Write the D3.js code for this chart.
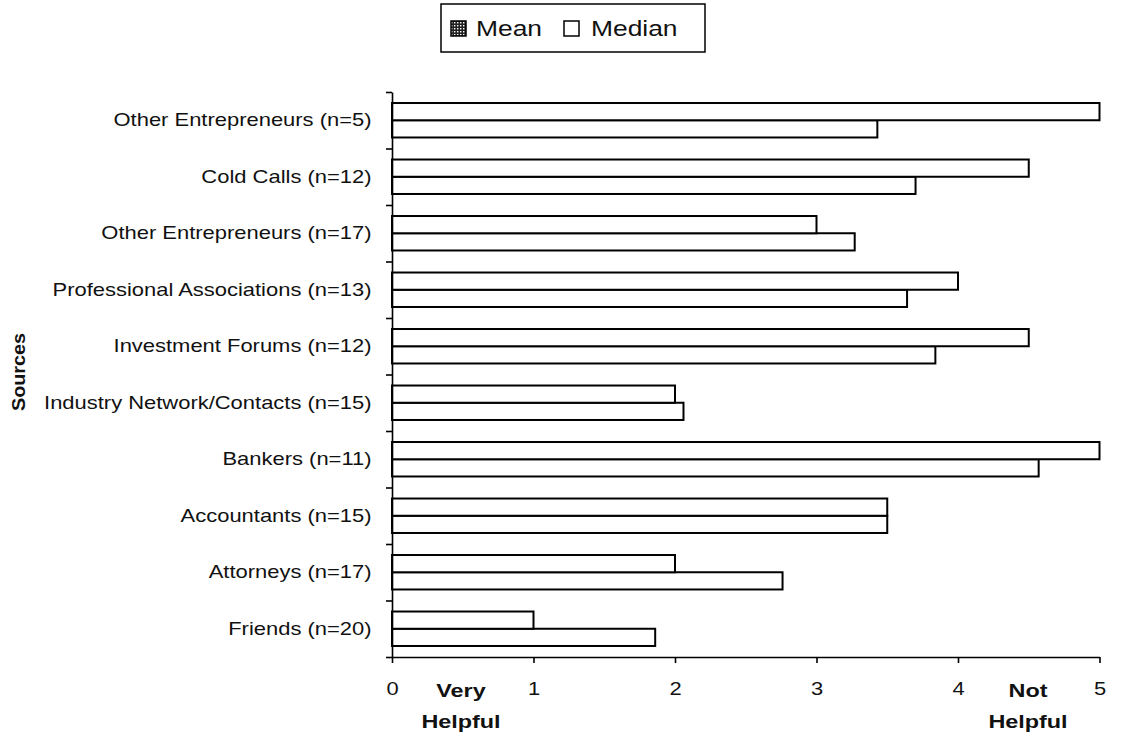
<!DOCTYPE html>
<html>
<head>
<meta charset="utf-8">
<script src="https://cdn.jsdelivr.net/npm/d3@7"></script>
<style>
  body { margin: 0; background: #fff; }
  svg { display: block; font-family: "Liberation Sans", Arial, sans-serif; }
</style>
</head>
<body>
<svg></svg>
<script>
const width = 1123;
const height = 735;
const margin = ({
    top: 92,
    right: 23.5,
    bottom: 78,
    left: 392
});

const categories = [
    "Other Entrepreneurs (n=5)",
    "Cold Calls (n=12)",
    "Other Entrepreneurs (n=17)",
    "Professional Associations (n=13)",
    "Investment Forums (n=12)",
    "Industry Network/Contacts (n=15)",
    "Bankers (n=11)",
    "Accountants (n=15)",
    "Attorneys (n=17)",
    "Friends (n=20)"
];
const seriesNames = ["Mean", "Median"];
const meanValues = [3.43, 3.70, 3.27, 3.64, 3.84, 2.06, 4.57, 3.5, 2.76, 1.86];
const medianValues = [5, 4.5, 3, 4, 4.5, 2, 5, 3.5, 2, 1];
const xTicks = [0, 1, 2, 3, 4, 5];

const stretch = 1.22;

const rows = categories.map((c, i) => ({
    category: c,
    Mean: meanValues[i],
    Median: medianValues[i]
}));

const svg = d3.select("svg")
    .attr("width", width)
    .attr("height", height)
    .attr("viewBox", [0, 0, width, height]);

const defs = svg.append("defs");
const dots = defs.append("pattern")
    .attr("id", "dots")
    .attr("patternUnits", "userSpaceOnUse")
    .attr("width", 3)
    .attr("height", 3);
dots.append("rect").attr("width", 3).attr("height", 3).attr("fill", "#222");
dots.append("rect").attr("x", 1).attr("y", 1).attr("width", 1.4).attr("height", 1.4).attr("fill", "#fff");

const x = d3.scaleLinear()
    .domain([0, 5])
    .range([margin.left, width - margin.right]);

const y = d3.scaleBand()
    .domain(categories)
    .range([margin.top, height - margin.bottom])
    .paddingInner(0.39)
    .paddingOuter(0.195);

// median on top, mean below inside each group
const ySub = d3.scaleBand()
    .domain(["Median", "Mean"])
    .range([0, y.bandwidth()]);

const yIdx = d3.scaleLinear()
    .domain([0, categories.length])
    .range([margin.top, height - margin.bottom]);

// bars
svg.append("g")
    .selectAll("g")
    .data(rows)
    .join("g")
    .attr("transform", d => `translate(0,${y(d.category)})`)
    .selectAll("rect")
    .data(d => seriesNames.map(s => ({ key: s, value: d[s] })))
    .join("rect")
    .attr("x", x(0))
    .attr("y", d => ySub(d.key))
    .attr("width", d => x(d.value) - x(0))
    .attr("height", ySub.bandwidth())
    .attr("fill", "#fff")
    .attr("stroke", "#000")
    .attr("stroke-width", 2);

// y axis with ticks between categories
svg.append("g")
    .attr("transform", `translate(${margin.left},0)`)
    .call(d3.axisLeft(yIdx).tickValues(d3.range(categories.length + 1)).tickFormat("").tickSize(6).tickSizeOuter(0))
    .call(g => g.selectAll("line, path").attr("stroke", "#000").attr("stroke-width", 1.6));

// category labels
svg.append("g")
    .attr("transform", `translate(${margin.left},0)`)
    .call(d3.axisLeft(y).tickSize(0).tickPadding(0))
    .call(g => g.select(".domain").remove())
    .call(g => g.selectAll("text")
        .attr("font-size", 18)
        .attr("font-family", "Liberation Sans, Arial, sans-serif")
        .attr("fill", "#111")
        .attr("x", -20.5 / stretch)
        .attr("transform", `scale(${stretch},1)`));

// x axis
svg.append("g")
    .attr("transform", `translate(0,${height - margin.bottom})`)
    .call(d3.axisBottom(x).tickValues(xTicks).tickFormat(d3.format("d")).tickSize(6).tickSizeOuter(0).tickPadding(19))
    .call(g => g.selectAll("line, path").attr("stroke", "#000").attr("stroke-width", 1.6))
    .call(g => g.selectAll("text")
        .attr("font-size", 18)
        .attr("font-family", "Liberation Sans, Arial, sans-serif")
        .attr("fill", "#111")
        .attr("transform", `scale(${stretch},1)`));

// scale end notes
const notes = [
    { x: 461, lines: ["Very", "Helpful"] },
    { x: 1028, lines: ["Not", "Helpful"] }
];
notes.forEach(n => {
    n.lines.forEach((t, i) => {
        svg.append("text")
            .attr("transform", `translate(${n.x},${697 + i * 31}) scale(1.3,1)`)
            .attr("text-anchor", "middle")
            .attr("font-size", 18)
            .attr("font-weight", "bold")
            .attr("fill", "#111")
            .text(t);
    });
});

// y-axis title
svg.append("text")
    .attr("transform", `translate(25,372) rotate(-90) scale(1.1,1)`)
    .attr("text-anchor", "middle")
    .attr("font-size", 18)
    .attr("font-weight", "bold")
    .attr("fill", "#111")
    .text("Sources");

// legend
const legend = svg.append("g");
legend.append("rect")
    .attr("x", 441)
    .attr("y", 4)
    .attr("width", 264)
    .attr("height", 48)
    .attr("fill", "#fff")
    .attr("stroke", "#000")
    .attr("stroke-width", 1.5);

const legendItems = [
    { name: "Mean", sx: 451, tx: 476, fill: "url(#dots)" },
    { name: "Median", sx: 564, tx: 591, fill: "#fff" }
];
legendItems.forEach(d => {
    legend.append("rect")
        .attr("x", d.sx)
        .attr("y", 21)
        .attr("width", 15)
        .attr("height", 15)
        .attr("fill", d.fill)
        .attr("stroke", "#000")
        .attr("stroke-width", 1.5);
    legend.append("text")
        .attr("transform", `translate(${d.tx},36) scale(1.2,1)`)
        .attr("font-size", 22)
        .attr("fill", "#111")
        .text(d.name);
});
</script>
</body>
</html>
